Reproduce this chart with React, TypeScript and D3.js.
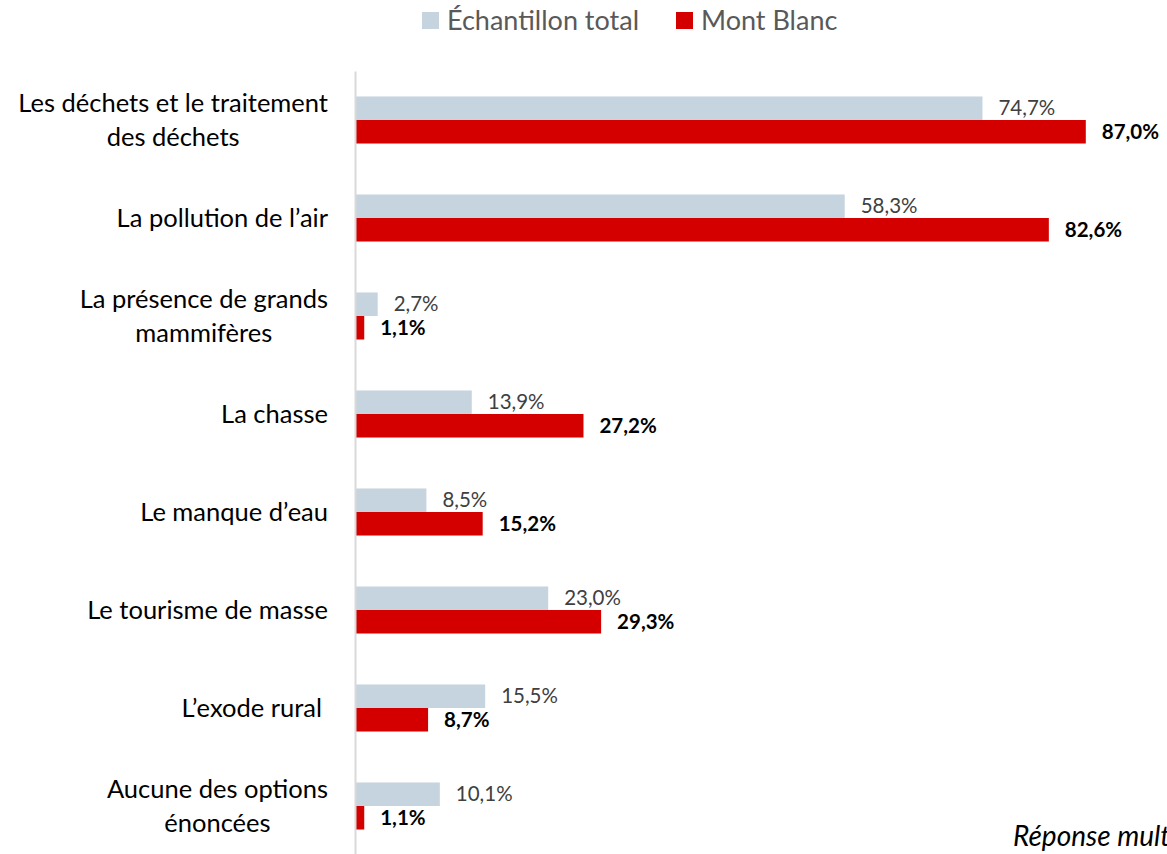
import React, { useEffect, useRef } from "react";
import * as d3 from "d3";

const categories = [
  "Les déchets et le traitement|des déchets",
  "La pollution de l’air",
  "La présence de grands|mammifères",
  "La chasse",
  "Le manque d’eau",
  "Le tourisme de masse",
  "L’exode rural",
  "Aucune des options|énoncées",
];
const totalValues = [74.7, 58.3, 2.7, 13.9, 8.5, 23.0, 15.5, 10.1];
const montBlancValues = [87.0, 82.6, 1.1, 27.2, 15.2, 29.3, 8.7, 1.1];
const seriesNames = ["Échantillon total", "Mont Blanc"];
const seriesColors = ["#c5d4df", "#d40000"];

const FONT = "Lato, 'Open Sans', sans-serif";
const fmt = (v: number) => v.toFixed(1).replace(".", ",") + "%";

export default function App() {
  const ref = useRef<SVGSVGElement>(null);

  useEffect(() => {
    const svg = d3.select(ref.current);
    svg.selectAll("*").remove();
    const axisX = 355;

    const y = d3.scaleBand<string>()
      .domain(categories)
      .range([71, 855])
      .paddingInner(0.52)
      .paddingOuter(0.26);
    const ySub = d3.scaleBand<string>()
      .domain(seriesNames)
      .range([0, y.bandwidth()]);
    const x = d3.scaleLinear().domain([0, 100]).range([axisX, axisX + 840]);

    // legend
    const legend = svg.append("g").attr("font-family", FONT);
    const legendX = [422, 676];
    seriesNames.forEach((name, i) => {
      legend.append("rect")
        .attr("x", legendX[i]).attr("y", 12)
        .attr("width", 17).attr("height", 17)
        .attr("fill", seriesColors[i]);
      legend.append("text")
        .attr("x", legendX[i] + 25).attr("y", 30)
        .attr("font-size", 27).attr("fill", "#595959")
        .text(name);
    });

    const rows = categories.map((c, i) => ({ c, vals: [totalValues[i], montBlancValues[i]] }));
    const g = svg.append("g").attr("font-family", FONT);

    rows.forEach((row) => {
      row.vals.forEach((v, s) => {
        const yy = (y(row.c) as number) + (ySub(seriesNames[s]) as number);
        g.append("rect")
          .attr("x", x(0)).attr("y", yy)
          .attr("width", x(v) - x(0)).attr("height", ySub.bandwidth())
          .attr("fill", seriesColors[s]);
        g.append("text")
          .attr("x", x(v) + 16).attr("y", yy + ySub.bandwidth() / 2)
          .attr("dy", "0.35em")
          .attr("font-size", 20.5)
          .attr("font-weight", s === 1 ? "bold" : "normal")
          .attr("fill", s === 1 ? "#000" : "#404040")
          .text(fmt(v));
      });
    });

    // axis line
    svg.append("g")
      .attr("transform", `translate(${axisX},0)`)
      .call(d3.axisLeft(y).tickSize(0).tickSizeOuter(0).tickFormat(() => ""))
      .call((a) => a.select(".domain").attr("stroke", "#d9d9d9").attr("stroke-width", 2));

    // category labels
    const labels = svg.append("g").attr("font-family", FONT).attr("font-size", 25.5).attr("fill", "#000");
    categories.forEach((c, i) => {
      const lines = c.split("|");
      const cy = (y(c) as number) + y.bandwidth() / 2;
      const t = labels.append("text").attr("text-anchor", "middle");
      const spans = lines.map((l, k) =>
        t.append("tspan")
          .attr("y", cy + (k - (lines.length - 1) / 2) * 34)
          .attr("dy", "0.35em")
          .text(l)
      );
      const w = d3.max(spans, (s) => (s.node() as SVGTextContentElement).getComputedTextLength()) || 0;
      const right = i === 6 ? 322 : 328;
      spans.forEach((s) => s.attr("x", right - w / 2));
    });

    // note runs past the right edge, as in the original
    svg.append("text")
      .attr("x", 1013).attr("y", 846)
      .attr("font-family", FONT).attr("font-size", 28)
      .attr("font-style", "italic").attr("fill", "#000")
      .text("Réponse multiple");
  }, []);

  return (
    <svg ref={ref} width={1167} height={854}
      style={{ position: "absolute", left: 0, top: 0, background: "#fff" }} />
  );
}
